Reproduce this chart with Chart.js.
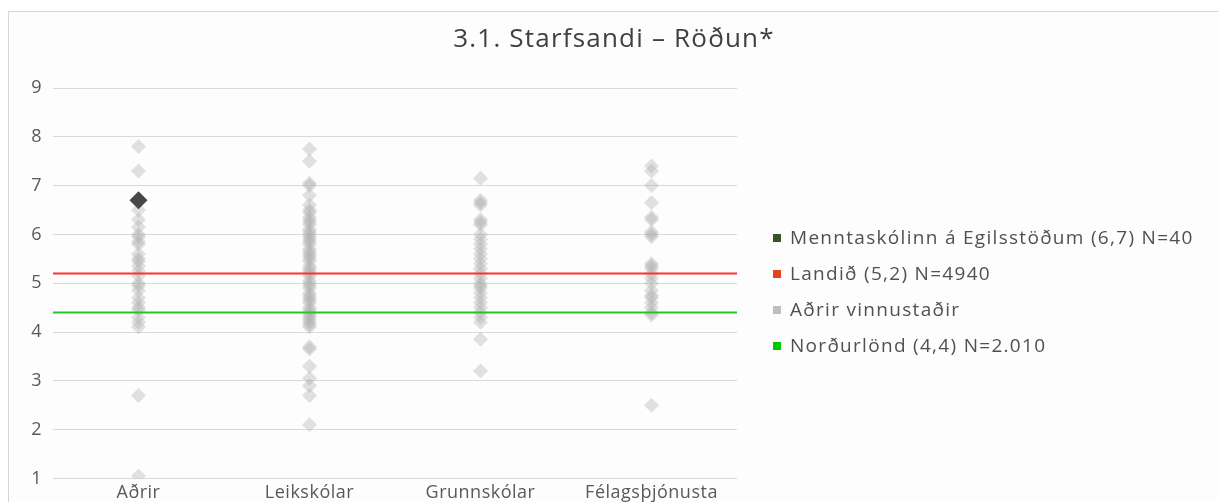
<!DOCTYPE html>
<html>
<head>
<meta charset="utf-8">
<script src="https://cdn.jsdelivr.net/npm/chart.js@4"></script>
<style>
  html, body { margin: 0; padding: 0; background: #ffffff; }
  body { width: 1218px; height: 502px; overflow: hidden; position: relative; font-family: "Open Sans", sans-serif; }
  #frame {
    position: absolute; left: 8px; top: 11px; width: 1210px; height: 491px; overflow: hidden;
    border-top: 1px solid #d6d6d6; border-left: 1px solid #d6d6d6; background: #fdfdfd;
  }
  #wrap { position: absolute; left: 0; top: 0; width: 1210px; height: 496px; }
  #title {
    position: absolute; left: 0; top: 9px; width: 1210px; text-align: center;
    font-size: 26px; line-height: 32px; letter-spacing: 1.2px; color: #404040;
  }
  #legend { position: absolute; left: 764px; top: 213px; list-style: none; margin: 0; padding: 0; }
  #legend li { height: 36px; line-height: 24px; font-size: 19px; letter-spacing: 1.3px; color: #505050; white-space: nowrap; }
  #legend span.box { display: inline-block; width: 8px; height: 8px; margin-right: 9px; vertical-align: 2px; }
</style>
</head>
<body>
<div id="frame">
  <div id="wrap"><canvas id="chart"></canvas></div>
  <div id="title"></div>
  <ul id="legend"></ul>
</div>
<script>
const title = "3.1. Starfsandi \u2013 R\u00f6\u00f0un*";
const categories = ["A\u00f0rir", "Leiksk\u00f3lar", "Grunnsk\u00f3lar", "F\u00e9lags\u00fej\u00f3nusta"];
const yTicks = [1, 2, 3, 4, 5, 6, 7, 8, 9];

// other workplaces, one list per category
const adrirValues = [7.8, 7.3, 6.5, 6.3, 6.15, 6.0, 5.95, 5.85, 5.8, 5.6, 5.5, 5.45, 5.35, 5.25, 5.15, 5.0, 4.95, 4.85, 4.7, 4.6, 4.5, 4.45, 4.3, 4.2, 4.1, 2.7, 1.05];
const leikskolarValues = [7.75, 7.5, 7.05, 7.0, 6.8, 6.6, 6.5, 6.45, 6.35, 6.3, 6.25, 6.2, 6.1, 6.05, 6.0, 5.95, 5.9, 5.85, 5.8, 5.7, 5.65, 5.6, 5.55, 5.5, 5.45, 5.35, 5.3, 5.25, 5.2, 5.15, 5.05, 5.0, 4.95, 4.9, 4.8, 4.75, 4.7, 4.65, 4.6, 4.5, 4.45, 4.4, 4.35, 4.3, 4.25, 4.2, 4.15, 4.1, 3.7, 3.65, 3.3, 3.05, 2.9, 2.7, 2.1];
const grunnskolarValues = [7.15, 6.7, 6.65, 6.6, 6.3, 6.25, 6.2, 6.0, 5.9, 5.8, 5.7, 5.6, 5.5, 5.4, 5.3, 5.2, 5.1, 5.0, 4.95, 4.9, 4.8, 4.7, 4.6, 4.5, 4.4, 4.3, 4.2, 3.85, 3.2];
const felagsValues = [7.4, 7.3, 7.0, 6.65, 6.35, 6.3, 6.05, 6.0, 5.95, 5.4, 5.35, 5.3, 5.2, 5.1, 5.0, 4.85, 4.75, 4.7, 4.6, 4.5, 4.4, 4.35, 2.5];

const schoolCategory = 0;
const schoolValue = 6.7;
const landidValue = 5.2;
const nordurlondValue = 4.4;

const legendNames = [
  "Menntask\u00f3linn \u00e1 Egilsst\u00f6\u00f0um (6,7) N=40",
  "Landi\u00f0 (5,2) N=4940",
  "A\u00f0rir vinnusta\u00f0ir",
  "Nor\u00f0url\u00f6nd (4,4) N=2.010",
];
const legendColors = ["#375623", "#e8401c", "#bfbfbf", "#00c800"];

const otherPoints = [adrirValues, leikskolarValues, grunnskolarValues, felagsValues]
  .flatMap((vals, i) => vals.map((v) => ({ x: i, y: v })));
const xMin = -0.5;
const xMax = categories.length - 0.5;
const hline = (v) => [{ x: xMin, y: v }, { x: xMax, y: v }];

document.getElementById("title").textContent = title;

const legend = document.getElementById("legend");
legendNames.forEach((name, i) => {
  const li = document.createElement("li");
  const box = document.createElement("span");
  box.className = "box";
  box.style.background = legendColors[i];
  li.appendChild(box);
  li.appendChild(document.createTextNode(name));
  legend.appendChild(li);
});

const font = "'Open Sans', sans-serif";
const spacing = {
  id: "spacing",
  beforeDraw: (chart) => {
    chart.ctx.letterSpacing = "0.5px";
  },
};

new Chart(document.getElementById("chart"), {
  type: "scatter",
  plugins: [spacing],
  data: {
    datasets: [
      {
        label: legendNames[1],
        data: hline(landidValue),
        showLine: true,
        borderColor: "#ff3030",
        borderWidth: 2,
        pointRadius: 0,
      },
      {
        label: legendNames[3],
        data: hline(nordurlondValue),
        showLine: true,
        borderColor: "#22c822",
        borderWidth: 2,
        pointRadius: 0,
      },
      {
        label: legendNames[0],
        data: [{ x: schoolCategory, y: schoolValue }],
        pointStyle: "rectRot",
        pointRadius: 9,
        backgroundColor: "#474747",
        borderColor: "#474747",
        borderWidth: 0,
      },
      {
        label: legendNames[2],
        data: otherPoints,
        pointStyle: "rectRot",
        pointRadius: 7.5,
        backgroundColor: "rgba(175,175,175,0.38)",
        borderWidth: 0,
      },
    ],
  },
  options: {
    responsive: true,
    maintainAspectRatio: false,
    animation: false,
    events: [],
    layout: { padding: { left: 0, right: 482, top: 76, bottom: 0 } },
    scales: {
      x: {
        type: "linear",
        min: xMin,
        max: xMax,
        afterBuildTicks: (s) => {
          s.ticks = categories.map((_, i) => ({ value: i }));
        },
        grid: { display: false, drawTicks: false },
        border: { display: false },
        ticks: {
          padding: 4,
          maxRotation: 0,
          color: "#595959",
          font: { family: font, size: 18 },
          callback: (v) => categories[v],
        },
      },
      y: {
        min: yTicks[0],
        max: yTicks[yTicks.length - 1],
        afterFit: (s) => {
          s.width = 44;
        },
        afterBuildTicks: (s) => {
          s.ticks = yTicks.map((v) => ({ value: v }));
        },
        grid: { color: "#d9d9d9", lineWidth: 1, drawTicks: false },
        border: { display: false },
        ticks: {
          padding: 11,
          color: "#595959",
          font: { family: font, size: 18 },
        },
      },
    },
    plugins: {
      legend: { display: false },
      tooltip: { enabled: false },
      title: { display: false },
    },
  },
});
</script>
</body>
</html>
